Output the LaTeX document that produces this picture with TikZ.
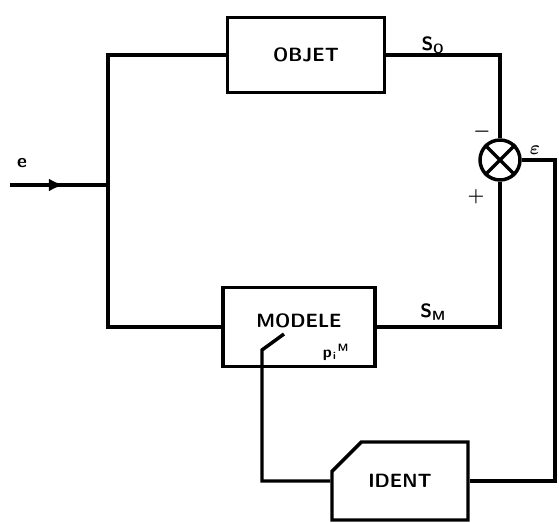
\documentclass[tikz,border=0pt]{standalone}
\usepackage{amsmath}
\usetikzlibrary{arrows.meta,shapes.misc,calc}

\begin{document}
\begin{tikzpicture}[x=0.75pt,y=-0.75pt,
    blk/.style={rectangle,draw,line width=2.6pt,font=\Large\sffamily\bfseries,inner sep=2pt},
    lnk/.style={line width=2.6pt},
    arr/.style={-{Latex[length=4mm,width=3.4mm]},line width=2.6pt},
    lbl/.style={font=\Large\sffamily\bfseries},
]
\useasboundingbox (0,0) rectangle (559,523);

% Blocks
\node[blk,minimum width=117.75pt,minimum height=56.25pt] (obj) at (306,55) {OBJET};
\node[blk,minimum width=114pt,minimum height=59.25pt] (mod) at (299,327) {};
\node[lbl] (lmod) at (299,321) {MODELE};
\node[blk,chamfered rectangle,chamfered rectangle corners=north west,
      chamfered rectangle xsep=24pt,chamfered rectangle ysep=15pt,
      minimum width=102pt,minimum height=58.5pt] (ident) at (400,481) {IDENT};
\node[circle,draw,line width=2.6pt,minimum size=30pt,inner sep=0pt] (sum) at (500,160) {};
\draw[lnk] (sum.north west) -- (sum.south east);
\draw[lnk] (sum.north east) -- (sum.south west);

% Points
\coordinate (in) at (10,185);
\coordinate (mid) at (64,185);
\coordinate (j) at (108,185);
\coordinate (eps) at (555,160);
\coordinate (p) at (262,350);
\coordinate (q) at (284,334);

% Connections
\draw[lnk] (in) -- (j);
\draw[arr] (in) -- (mid);
\draw[lnk] (obj.west) -| (j);
\draw[lnk] (mod.west) -| (j);
\draw[lnk] (obj.east) -| (sum.north);
\draw[lnk] (mod.east) -| (sum.south);
\draw[lnk] (sum.east) -- (eps) |- (ident.east);
\draw[lnk] (ident.west) -| (p) -- (q);

% Labels
\node[lbl] (le) at (22,163) {e};
\node[lbl] (lso) at (433,45) {S\textsubscript{O}};
\node[lbl] (lsm) at (433,312) {S\textsubscript{M}};
\node[lbl] (lmin) at (482,132) {$\boldsymbol{-}$};
\node[lbl] (lplus) at (476,197) {$\boldsymbol{+}$};
\node[lbl] (leps) at (535,150) {$\boldsymbol{\varepsilon}$};
\node[font=\large\sffamily\bfseries] (lpm) at (336,352) {p\kern1pt\textsubscript{i}\kern1pt\textsuperscript{M}};
\end{tikzpicture}
\end{document}
